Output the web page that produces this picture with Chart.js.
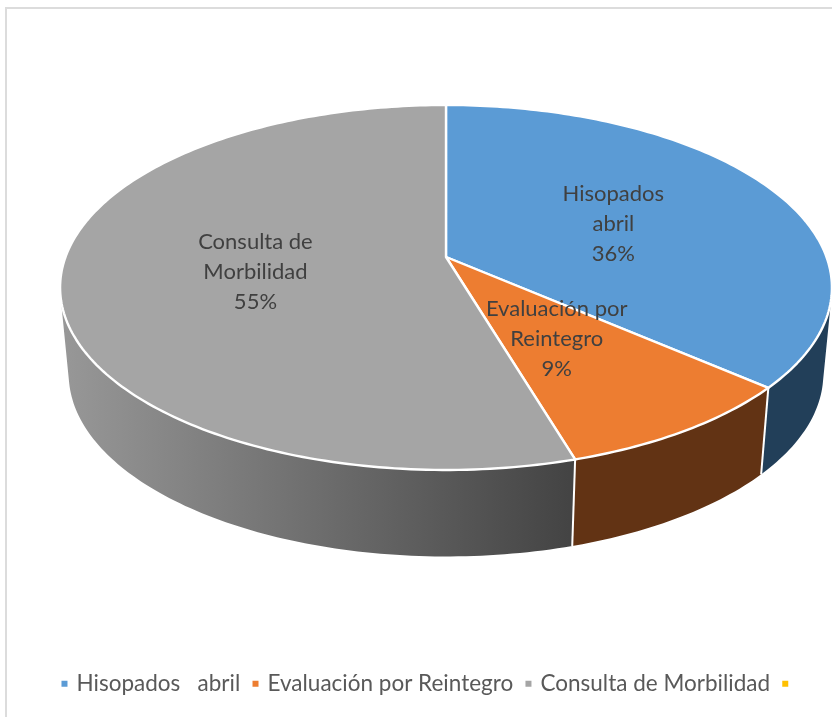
<!DOCTYPE html>
<html>
<head>
<meta charset="utf-8">
<script src="https://cdn.jsdelivr.net/npm/chart.js@4"></script>
<style>
    body { margin: 0; background: #fff; }
    #frame { position: absolute; left: 5px; top: 7px; right: 0; bottom: 0; border-top: 2px solid #dcdcdc; border-left: 2px solid #dcdcdc; }
    #chart { position: absolute; left: 0; top: 0; }
</style>
</head>
<body>
<div id="frame"></div>
<canvas id="chart" width="832" height="717"></canvas>
<script>
// Chart data
const categories = ['Hisopados   abril', 'Evaluación por Reintegro', 'Consulta de Morbilidad', ''];
const shares = [36.4, 9.0, 54.6, 0];
const labelLines = [['Hisopados', 'abril'], ['Evaluación por', 'Reintegro'], ['Consulta de', 'Morbilidad'], []];
const topColors = ['#5B9BD5', '#ED7D31', '#A5A5A5', '#FFC000'];
const wallColors = [['#223F59', '#223F59'], ['#5C3012', '#623314'], ['#989898', '#434343'], ['#FFC000', '#FFC000']];

// Perspective of the tilted pie
const topView = { x: 446, y: 257, ax: 380.5, ay: 177.4, k: 0.167 };
const baseView = { x: 446, y: 343.5, ax: 372, ay: 177.4, k: 0.167 };
const STEP = Math.PI / 180;

// Project an angle/radius on the pie plane to the screen
function project(view, angle, r) {
    const u = r * Math.cos(angle);
    const v = r * Math.sin(angle);
    const w = 1 - view.k * v;
    return [view.x + view.ax * u / w, view.y + view.ay * v / w];
}

function rimAngles(start, end) {
    const angles = [];
    for (let a = start; a < end; a += STEP) angles.push(a);
    angles.push(end);
    return angles;
}

function signedArea(p) {
    let area = 0;
    p.forEach((pt, i) => {
        const next = p[(i + 1) % p.length];
        area += pt[0] * next[1] - next[0] * pt[1];
    });
    return area;
}

function drawWall(ctx, arc, index) {
    const gradient = ctx.createLinearGradient(60, 0, 575, 0);
    gradient.addColorStop(0, wallColors[index][0]);
    gradient.addColorStop(1, wallColors[index][1]);
    ctx.fillStyle = gradient;
    const angles = rimAngles(arc.startAngle, arc.endAngle);
    // One path for the whole wall, every quad wound the same way so no seams show
    ctx.beginPath();
    for (let i = 0; i < angles.length - 1; i++) {
        const p = [
            project(topView, angles[i], 1),
            project(topView, angles[i + 1], 1),
            project(baseView, angles[i + 1], 1),
            project(baseView, angles[i], 1)
        ];
        if (signedArea(p) < 0) p.reverse();
        p.forEach((pt, n) => n ? ctx.lineTo(pt[0], pt[1]) : ctx.moveTo(pt[0], pt[1]));
        ctx.closePath();
    }
    ctx.fill('nonzero');
}

function drawWallEdge(ctx, angle) {
    if (Math.sin(angle) <= 0) return;
    const a = project(topView, angle, 1);
    const b = project(baseView, angle, 1);
    ctx.strokeStyle = '#fff';
    ctx.lineWidth = 2;
    ctx.beginPath();
    ctx.moveTo(a[0], a[1]);
    ctx.lineTo(b[0], b[1]);
    ctx.stroke();
}

function drawTop(ctx, arc, index) {
    ctx.beginPath();
    ctx.moveTo(topView.x, topView.y);
    rimAngles(arc.startAngle, arc.endAngle).forEach(a => {
        const pt = project(topView, a, 1);
        ctx.lineTo(pt[0], pt[1]);
    });
    ctx.closePath();
    ctx.fillStyle = topColors[index];
    ctx.fill();
    ctx.strokeStyle = '#fff';
    ctx.lineWidth = 2.4;
    ctx.lineJoin = 'round';
    ctx.stroke();
}

function drawLabel(ctx, arc, index) {
    const mid = (arc.startAngle + arc.endAngle) / 2;
    const pos = project(topView, mid, 0.5);
    const lines = labelLines[index].concat(Math.round(shares[index]) + '%');
    ctx.fillStyle = '#404040';
    ctx.font = '22px Lato, sans-serif';
    ctx.textAlign = 'center';
    ctx.textBaseline = 'middle';
    lines.forEach((line, n) => {
        ctx.fillText(line, pos[0], pos[1] + 2 + (n - (lines.length - 1) / 2) * 30);
    });
}

// Replaces the flat arcs with the tilted pie, angles come from the arc elements
const tiltedPie = {
    id: 'tiltedPie',
    beforeDatasetsDraw(chart) {
        const ctx = chart.ctx;
        const arcs = chart.getDatasetMeta(0).data.filter(arc => arc.endAngle > arc.startAngle);
        const indexOf = arc => chart.getDatasetMeta(0).data.indexOf(arc);
        ctx.save();
        arcs.forEach(arc => drawWall(ctx, arc, indexOf(arc)));
        arcs.forEach(arc => drawWallEdge(ctx, arc.endAngle));
        arcs.forEach(arc => drawTop(ctx, arc, indexOf(arc)));
        arcs.forEach(arc => drawLabel(ctx, arc, indexOf(arc)));
        ctx.restore();
        return false;
    }
};

new Chart(document.getElementById('chart'), {
    type: 'pie',
    data: {
        labels: categories,
        datasets: [{
            data: shares,
            backgroundColor: topColors
        }]
    },
    options: {
        responsive: false,
        animation: false,
        layout: { padding: { bottom: 12, left: 29 } },
        plugins: {
            tooltip: { enabled: false },
            legend: {
                position: 'bottom',
                labels: {
                    usePointStyle: true,
                    pointStyle: 'rect',
                    boxWidth: 1.5,
                    boxHeight: 8,
                    padding: 14.5,
                    color: '#595959',
                    font: { family: 'Lato, sans-serif', size: 22.5 }
                }
            }
        }
    },
    plugins: [tiltedPie]
});
</script>
</body>
</html>
